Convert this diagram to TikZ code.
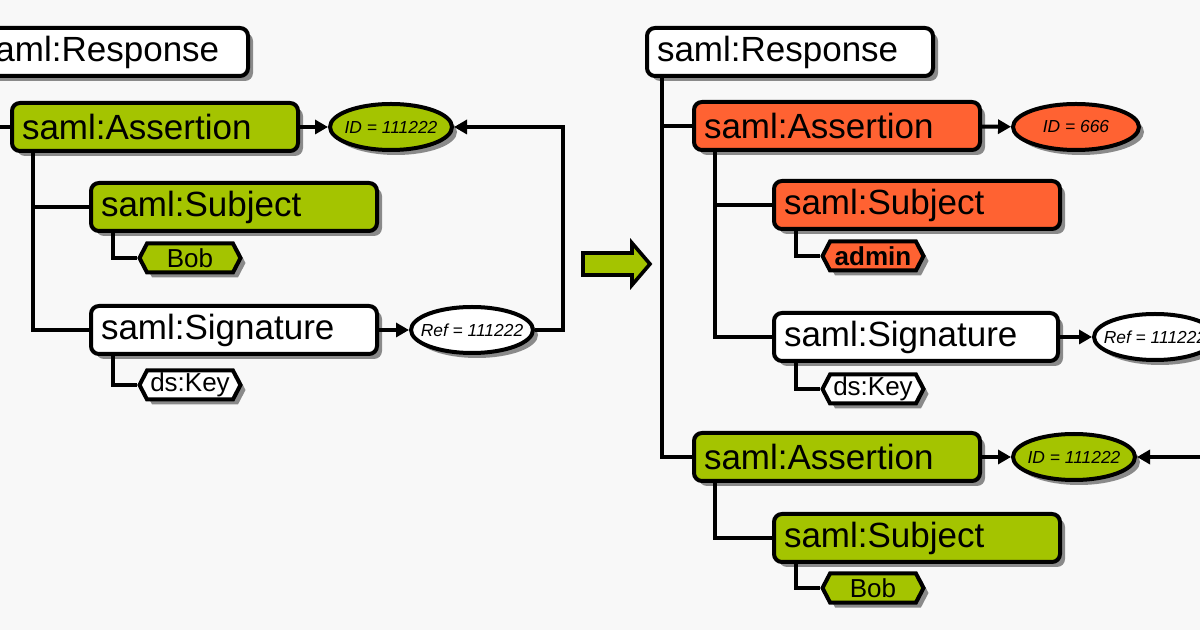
\documentclass[tikz,border=0pt]{standalone}
\usepackage{fontspec}
\setmainfont{Liberation Sans}
\usetikzlibrary{shapes.geometric,shapes.symbols,shadows,arrows.meta}

\definecolor{samlgreen}{RGB}{164,196,0}
\definecolor{samlred}{RGB}{255,98,50}
\definecolor{paper}{RGB}{248,248,248}

\tikzset{
  shade/.style={drop shadow={shadow xshift=2.5pt, shadow yshift=-2.5pt, fill=black!60, opacity=0.75}},
  elem/.style={rectangle, rounded corners=4pt, draw, line width=2pt, fill=white, shade,
    minimum height=24pt, text width=133pt, inner xsep=5pt, inner ysep=0pt, align=left,
    anchor=west, font=\fontsize{17.5}{20}\selectfont},
  val/.style={signal, signal to=west and east, signal pointer angle=125, draw, line width=2pt,
    fill=white, shade, minimum width=50.5pt, minimum height=14.5pt, inner sep=0pt,
    font=\fontsize{13}{15}\selectfont},
  attr/.style={ellipse, draw, line width=2pt, fill=white, shade, minimum width=61pt,
    minimum height=23pt, inner xsep=-5pt, inner ysep=0pt, font=\fontsize{8.7}{10}\selectfont\itshape},
  tree/.style={line width=2pt},
  link/.style={line width=2pt, -{Triangle[length=6.5pt,width=7pt]}}
}

\begin{document}
\begin{tikzpicture}[x=0.5pt, y=-0.5pt]
  \fill[paper] (0,0) rectangle (1200,630);
  \useasboundingbox (0,0) rectangle (1200,630);
  \clip (0,0) rectangle (1200,630);

  % Original response
  \node[elem, text width=130pt] (resp1) at (-34,52) {saml:Response};
  \node[elem, fill=samlgreen] (asrt1) at (10,127) {saml:Assertion};
  \node[elem, fill=samlgreen] (subj1) at (89,207) {saml:Subject};
  \node[val, fill=samlgreen] (bob1) at (190,258) {Bob};
  \node[elem] (sig1) at (89,330) {saml:Signature};
  \node[val] (key1) at (190,385) {ds:Key};
  \node[attr, fill=samlgreen] (id1) at (391,127) {ID = 111222};
  \node[attr] (ref1) at (472,330) {Ref = 111222};
  \coordinate (loop1) at (563,127);

  \draw[tree] ([xshift=8.5pt]resp1.south west) |- (asrt1.west);
  \draw[tree] ([xshift=11.5pt]asrt1.south west) |- (subj1.west);
  \draw[tree] ([xshift=11.5pt]asrt1.south west) |- (sig1.west);
  \draw[tree] ([xshift=12pt]subj1.south west) |- (bob1.west);
  \draw[tree] ([xshift=12pt]sig1.south west) |- (key1.west);
  \draw[link] (asrt1) -- (id1);
  \draw[link] (sig1) -- (ref1);
  \draw[link] (ref1.east) -| (loop1) -- (id1.east);

  % Arrow
  \draw[fill=samlgreen, line width=1.8pt, line join=miter]
    (583,253) -- (632,253) -- (632,243) -- (650,264) -- (632,285) -- (632,275) -- (583,275) -- cycle;

  % Wrapped response
  \node[elem] (resp2) at (645,52) {saml:Response};
  \node[elem, fill=samlred] (asrt2) at (692,126) {saml:Assertion};
  \node[elem, fill=samlred] (subj2) at (772,205) {saml:Subject};
  \node[val, fill=samlred, font=\fontsize{13}{15}\selectfont\bfseries] (admin2) at (873,256) {admin};
  \node[elem, text width=132pt] (sig2) at (772,337) {saml:Signature};
  \node[val] (key2) at (873,389) {ds:Key};
  \node[attr, fill=samlred, minimum width=63pt] (id2) at (1076,127) {ID = 666};
  \node[attr] (ref2) at (1155,337) {Ref = 111222};
  \node[elem, fill=samlgreen] (asrt3) at (692,457) {saml:Assertion};
  \node[elem, fill=samlgreen] (subj3) at (772,538) {saml:Subject};
  \node[val, fill=samlgreen] (bob3) at (873,588) {Bob};
  \node[attr, fill=samlgreen] (id3) at (1074,457) {ID = 111222};
  \coordinate (loop2) at (1250,400);

  \draw[tree] ([xshift=8.5pt]resp2.south west) |- (asrt2.west);
  \draw[tree] ([xshift=8.5pt]resp2.south west) |- (asrt3.west);
  \draw[tree] ([xshift=11.5pt]asrt2.south west) |- (subj2.west);
  \draw[tree] ([xshift=11.5pt]asrt2.south west) |- (sig2.west);
  \draw[tree] ([xshift=12pt]subj2.south west) |- (admin2.west);
  \draw[tree] ([xshift=12pt]sig2.south west) |- (key2.west);
  \draw[tree] ([xshift=11.5pt]asrt3.south west) |- (subj3.west);
  \draw[tree] ([xshift=12pt]subj3.south west) |- (bob3.west);
  \draw[link] (asrt2) -- (id2);
  \draw[link] (sig2) -- (ref2);
  \draw[link] (asrt3) -- (id3);
  \draw[link] (ref2.east) -| (loop2) |- (id3.east);
\end{tikzpicture}
\end{document}
